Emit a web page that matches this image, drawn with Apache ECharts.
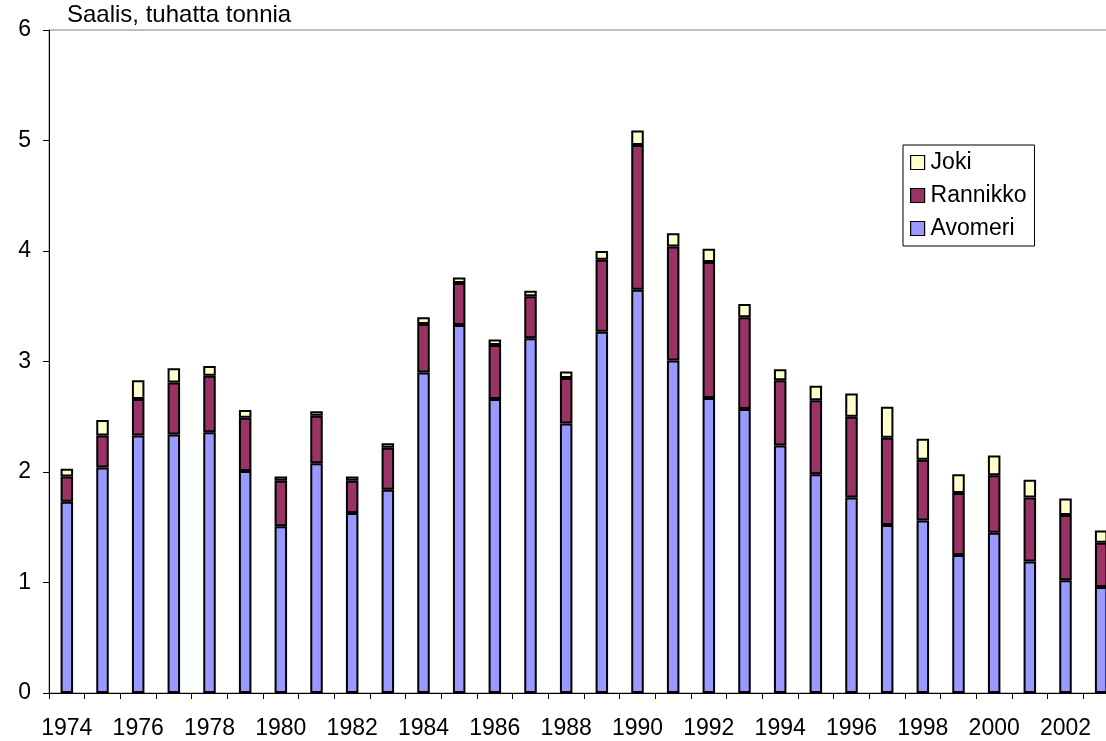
<!DOCTYPE html>
<html>
<head>
<meta charset="utf-8">
<script src="https://cdn.jsdelivr.net/npm/echarts@6/dist/echarts.min.js"></script>
<style>
  html, body { margin: 0; padding: 0; background: #fff; }
  #main { width: 1106px; height: 741px; }
</style>
</head>
<body>
<div id="main"></div>
<script>
var years = [1974, 1975, 1976, 1977, 1978, 1979, 1980, 1981, 1982, 1983,
             1984, 1985, 1986, 1987, 1988, 1989, 1990, 1991, 1992, 1993,
             1994, 1995, 1996, 1997, 1998, 1999, 2000, 2001, 2002, 2003];
// tuhatta tonnia
var avomeri  = [1.73, 2.04, 2.33, 2.34, 2.36, 2.01, 1.51, 2.08, 1.63, 1.84,
                2.90, 3.33, 2.66, 3.21, 2.44, 3.27, 3.65, 3.01, 2.67, 2.57,
                2.24, 1.98, 1.77, 1.52, 1.56, 1.25, 1.45, 1.19, 1.02, 0.96];
var rannikko = [0.23, 0.29, 0.33, 0.47, 0.51, 0.48, 0.41, 0.43, 0.29, 0.38,
                0.44, 0.38, 0.49, 0.38, 0.41, 0.65, 1.31, 1.03, 1.23, 0.83,
                0.59, 0.67, 0.73, 0.79, 0.55, 0.56, 0.52, 0.58, 0.59, 0.40];
var joki     = [0.07, 0.14, 0.17, 0.13, 0.09, 0.07, 0.04, 0.04, 0.04, 0.04,
                0.06, 0.05, 0.05, 0.05, 0.06, 0.08, 0.13, 0.12, 0.12, 0.12,
                0.10, 0.13, 0.21, 0.28, 0.19, 0.17, 0.18, 0.16, 0.15, 0.11];

var fontFam = "'Liberation Sans', Arial, sans-serif";

var myChart = echarts.init(document.getElementById('main'));

function barSeries(name, data, color) {
    return {
        name: name,
        type: 'bar',
        stack: 'saalis',
        barWidth: 12.5,
        data: data,
        animation: false,
        itemStyle: {
            color: color,
            borderColor: '#000',
            borderWidth: 2
        }
    };
}

var option = {
    backgroundColor: '#ffffff',
    animation: false,
    title: {
        text: 'Saalis, tuhatta tonnia',
        left: 67,
        top: 3,
        padding: 0,
        textStyle: {
            fontFamily: fontFam,
            fontSize: 24,
            fontWeight: 'normal',
            color: '#000'
        }
    },
    legend: {
        orient: 'vertical',
        left: 903,
        top: 145,
        padding: [6, 8, 6, 7],
        itemGap: 10,
        itemWidth: 14,
        itemHeight: 14,
        icon: 'rect',
        borderColor: '#000',
        borderWidth: 1,
        itemStyle: {
            borderColor: '#000',
            borderWidth: 1.2
        },
        textStyle: {
            fontFamily: fontFam,
            fontSize: 23,
            color: '#000',
            padding: [0, 0, 0, 1]
        },
        data: ['Joki', 'Rannikko', 'Avomeri']
    },
    grid: {
        left: 49,
        top: 30,
        bottom: 48,
        width: 1070,
        show: true,
        borderColor: '#808080',
        borderWidth: 1,
        outerBoundsMode: 'none',
        containLabel: false
    },
    xAxis: {
        type: 'category',
        data: years,
        axisLine: { lineStyle: { color: '#000', width: 1 } },
        axisTick: { show: true, interval: 0, length: 6, lineStyle: { color: '#000' } },
        axisLabel: {
            interval: 1,
            margin: 24,
            fontFamily: fontFam,
            fontSize: 23,
            color: '#000'
        },
        splitLine: { show: false }
    },
    yAxis: {
        type: 'value',
        min: 0,
        max: 6,
        interval: 1,
        axisLine: { show: true, lineStyle: { color: '#000', width: 1 } },
        axisTick: { show: true, length: 6, lineStyle: { color: '#000' } },
        axisLabel: {
            margin: 18,
            fontFamily: fontFam,
            fontSize: 23,
            color: '#000'
        },
        splitLine: { show: false }
    },
    series: [
        barSeries('Avomeri', avomeri, '#9999ff'),
        barSeries('Rannikko', rannikko, '#993366'),
        barSeries('Joki', joki, '#ffffcc')
    ]
};

myChart.setOption(option);
</script>
</body>
</html>
